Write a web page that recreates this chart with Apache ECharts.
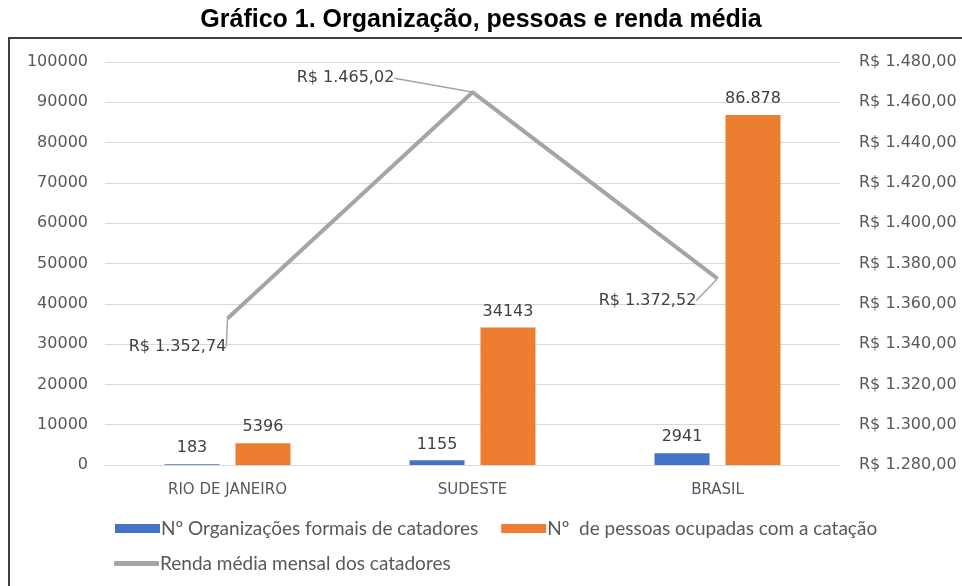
<!DOCTYPE html>
<html><head><meta charset="utf-8">
<script src="https://cdn.jsdelivr.net/npm/echarts@6/dist/echarts.min.js"></script>
<style>html,body{margin:0;padding:0;background:#fff}#c{width:962px;height:586px}</style>
</head><body><div id="c"></div>
<script>
const categories = ['RIO DE JANEIRO', 'SUDESTE', 'BRASIL'];
const organizacoes = [183, 1155, 2941];
const pessoas = [5396, 34143, 86878];
const pessoasLabels = ['5396', '34143', '86.878'];
const renda = [1352.74, 1465.02, 1372.52];
const leftTicks = [0, 100000, 10000];
const rightTicks = [1280, 1480, 20];

function brl(v) {
  const fixed = v.toFixed(2).split('.');
  const intPart = fixed[0].replace(/\B(?=(\d{3})+(?!\d))/g, '.');
  return 'R$ ' + intPart + ',' + fixed[1];
}
const lineLabelShift = [[-50, 28], [-127, -14], [-70, 22]];

const chart = echarts.init(document.getElementById('c'), null, {renderer: 'canvas'});
const numFont = {fontFamily: 'DejaVu Sans', fontSize: 16, color: '#595959'};
const legendFont = {fontFamily: 'Lato', fontSize: 19, color: '#595959', padding: [0, 0, 0, -4]};
chart.setOption({
  animation: false,
  title: {
    text: 'Gráfico 1. Organização, pessoas e renda média',
    left: 'center', top: 3,
    textStyle: {fontFamily: 'Liberation Sans', fontWeight: 'bold', fontSize: 25, color: '#000'}
  },
  graphic: [{
    type: 'rect', shape: {x: 9, y: 38, width: 960, height: 560},
    style: {fill: null, stroke: '#404040', lineWidth: 2}, silent: true
  }],
  grid: {left: 105, right: 122, top: 62, bottom: 121, containLabel: false},
  legend: [{
    data: ['Nº Organizações formais de catadores', 'Nº  de pessoas ocupadas com a catação'],
    left: 110, top: 514, itemWidth: 45, itemHeight: 9, itemGap: 23,
    textStyle: legendFont, icon: 'rect'
  }, {
    data: [{name: 'Renda média mensal dos catadores', icon: 'roundRect'}],
    left: 109, top: 549, itemWidth: 45, itemHeight: 5,
    textStyle: legendFont
  }],
  xAxis: {
    type: 'category', data: categories,
    axisLine: {lineStyle: {color: '#d9d9d9'}}, axisTick: {show: false},
    axisLabel: Object.assign({margin: 18}, numFont, {fontSize: 15})
  },
  yAxis: [{
    type: 'value', min: leftTicks[0], max: leftTicks[1], interval: leftTicks[2],
    axisLine: {show: false}, axisTick: {show: false},
    splitLine: {lineStyle: {color: '#d9d9d9', width: 1}},
    axisLabel: Object.assign({margin: 17, formatter: v => String(v)}, numFont)
  }, {
    type: 'value', min: rightTicks[0], max: rightTicks[1], interval: rightTicks[2],
    axisLine: {show: false}, axisTick: {show: false}, splitLine: {show: false},
    axisLabel: Object.assign({margin: 19, formatter: v => brl(v)}, numFont)
  }],
  series: [{
    name: 'Nº Organizações formais de catadores', type: 'bar', data: organizacoes,
    barWidth: 55, barGap: '29%', itemStyle: {color: '#4472c4'},
    label: Object.assign({show: true, position: 'top', distance: 8}, numFont, {color: '#404040'})
  }, {
    name: 'Nº  de pessoas ocupadas com a catação', type: 'bar', data: pessoas,
    barWidth: 55, itemStyle: {color: '#ed7d31'},
    label: Object.assign({show: true, position: 'top', distance: 8,
      formatter: p => pessoasLabels[p.dataIndex]}, numFont, {color: '#404040'})
  }, {
    name: 'Renda média mensal dos catadores', type: 'line', yAxisIndex: 1, data: renda,
    symbol: 'circle', symbolSize: 1, showSymbol: true,
    lineStyle: {color: '#a5a5a5', width: 4}, itemStyle: {color: '#a5a5a5'},
    label: Object.assign({show: true, position: 'inside', formatter: p => brl(p.value)}, numFont, {color: '#404040'}),
    labelLayout: p => ({dx: lineLabelShift[p.dataIndex][0], dy: lineLabelShift[p.dataIndex][1]}),
    labelLine: {show: true, lineStyle: {color: '#a5a5a5', width: 1.5}, length2: 0}
  }]
});
</script></body></html>
